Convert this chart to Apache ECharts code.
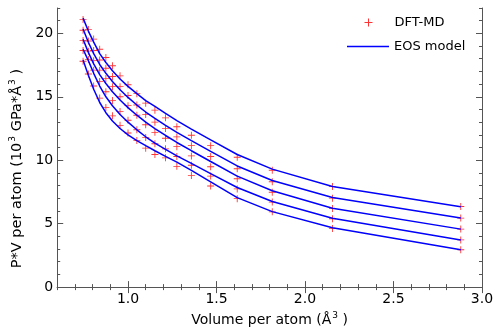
<!DOCTYPE html>
<html>
<head>
<meta charset="utf-8">
<script src="https://cdn.jsdelivr.net/npm/echarts@6/dist/echarts.min.js"></script>
<style>
html,body{margin:0;padding:0;background:#fff;}
#chart{width:498px;height:332px;}
</style>
</head>
<body>
<div id="chart"></div>
<script>
// Volume per atom (Å^3)
const volumes = [0.746, 0.776, 0.806, 0.840, 0.875, 0.912, 0.955, 1.000, 1.050, 1.100, 1.152, 1.212, 1.276, 1.358, 1.467, 1.617, 1.815, 2.155, 2.880];

// DFT-MD points (P*V per atom, 10^3 GPa*Å^3), five isotherms
const dft1 = [21.1, 20.3, 19.55, 18.75, 18.1, 17.45, 16.65, 15.95, 15.25, 14.5, 13.95, 13.34, 12.64, 11.97, 11.15, 10.24, 9.21, 7.92, 6.35];
const dft2 = [20.25, 19.4, 18.65, 17.9, 17.25, 16.6, 15.8, 15.1, 14.35, 13.6, 13.0, 12.51, 11.84, 11.15, 10.29, 9.33, 8.30, 7.01, 5.44];
const dft3 = [19.43, 18.6, 17.85, 17.1, 16.45, 15.8, 15.0, 14.3, 13.55, 12.8, 12.2, 11.73, 11.07, 10.34, 9.49, 8.54, 7.48, 6.19, 4.57];
const dft4 = [18.65, 17.95, 17.1, 16.2, 15.4, 14.7, 13.85, 13.15, 12.4, 11.8, 11.3, 10.9, 10.29, 9.60, 8.75, 7.74, 6.70, 5.39, 3.72];
const dft5 = [17.8, 16.8, 15.85, 14.9, 14.15, 13.5, 12.75, 12.15, 11.55, 10.95, 10.45, 10.19, 9.52, 8.79, 7.97, 6.97, 5.93, 4.61, 2.94];

// EOS model curves
const eos1 = [21.2, 20.18, 19.31, 18.4, 17.7, 17.05, 16.4, 15.82, 15.25, 14.7, 14.25, 13.69, 13.13, 12.46, 11.6, 10.45, 9.3, 7.93, 6.33];
const eos2 = [20.35, 19.3, 18.4, 17.55, 16.85, 16.2, 15.55, 14.95, 14.35, 13.8, 13.3, 12.75, 12.2, 11.55, 10.7, 9.55, 8.4, 7.06, 5.44];
const eos3 = [19.53, 18.5, 17.6, 16.75, 16.05, 15.4, 14.75, 14.15, 13.55, 13.0, 12.5, 11.95, 11.4, 10.75, 9.9, 8.75, 7.6, 6.22, 4.57];
const eos4 = [18.75, 17.85, 16.85, 15.85, 15.0, 14.3, 13.6, 13.0, 12.4, 11.85, 11.35, 10.85, 10.35, 9.75, 8.95, 7.85, 6.75, 5.42, 3.72];
const eos5 = [17.9, 16.7, 15.6, 14.55, 13.75, 13.1, 12.5, 12.0, 11.55, 11.15, 10.75, 10.3, 9.85, 9.2, 8.3, 7.05, 5.95, 4.68, 2.94];

// Tick labels
const xTickLabels = [1.0, 1.5, 2.0, 2.5, 3.0];
const yTickLabels = [0, 5, 10, 15, 20];

const dftSets = [dft1, dft2, dft3, dft4, dft5];
const eosSets = [eos1, eos2, eos3, eos4, eos5];

const FONT = 'DejaVu Sans';
const AXC = '#555';
const plus = 'path://M3.5,0h1v3.5h3.5v1h-3.5v3.5h-1v-3.5h-3.5v-1h3.5z';

const chart = echarts.init(document.getElementById('chart'), null, {renderer: 'canvas'});

function xAx(pos, opts) {
  return Object.assign({
    type: 'value', position: pos, min: 0.6, max: 3.0,
    axisLine: {show: false}, splitLine: {show: false},
    axisLabel: {show: false}, axisTick: {show: false}
  }, opts);
}
function yAx(pos, opts) {
  return Object.assign({
    type: 'value', position: pos, min: 0, max: 22,
    axisLine: {show: false}, splitLine: {show: false},
    axisLabel: {show: false}, axisTick: {show: false}
  }, opts);
}

const series = [];
series.push({
  name: 'DFT-MD', type: 'scatter', xAxisIndex: 0, yAxisIndex: 0,
  symbol: plus, symbolSize: 7, z: 2,
  itemStyle: {color: '#ff0000', opacity: 0.8},
  data: dftSets.flatMap(arr => arr.map((p, i) => [volumes[i], p]))
});
eosSets.forEach(arr => {
  series.push({
    name: 'EOS model', type: 'line', xAxisIndex: 0, yAxisIndex: 0,
    showSymbol: false, symbol: 'none', z: 3,
    lineStyle: {color: '#0000ff', width: 1.5},
    itemStyle: {color: '#0000ff'},
    data: arr.map((p, i) => [volumes[i], p])
  });
});

const option = {
  animation: false,
  backgroundColor: '#fff',
  grid: {left: 45, right: 16, top: 8, bottom: 40, containLabel: false},
  legend: [
    {
      data: ['DFT-MD'], left: 364.5, top: 16, padding: 0,
      itemWidth: 8, itemHeight: 8, icon: plus,
      textStyle: {fontFamily: FONT, fontSize: 13, color: '#000', padding: [0, 0, 0, 17]},
      itemStyle: {color: '#ff0000'}
    },
    {
      data: ['EOS model'], left: 347, top: 40, padding: 0,
      itemWidth: 42, itemHeight: 10, icon: 'path://M0,4.4h42v1.3h-42z',
      textStyle: {fontFamily: FONT, fontSize: 13, color: '#000'},
      itemStyle: {color: '#0000ff'}
    }
  ],
  xAxis: [
    xAx('bottom', {
      name: '{t|Volume per atom (Å}{s|3}{t| )}',
      nameLocation: 'middle', nameGap: 21,
      nameTextStyle: {
        fontFamily: FONT, fontSize: 14, color: '#000',
        rich: {t: {fontFamily: FONT, fontSize: 14, color: '#000'},
               s: {fontFamily: FONT, fontSize: 9, color: '#000', padding: [0, 0, 9, 1]}}
      },
      axisLine: {show: true, lineStyle: {color: AXC, width: 1}},
      axisTick: {show: true, inside: true, length: 6, customValues: xTickLabels, lineStyle: {color: AXC}},
      axisLabel: {show: true, customValues: xTickLabels, margin: 5, fontFamily: FONT, fontSize: 14, color: '#000',
                  formatter: v => v.toFixed(1)}
    }),
    xAx('bottom', {interval: 0.1, axisTick: {show: true, inside: true, length: 3, lineStyle: {color: AXC}}}),
    xAx('top', {axisLine: {show: true, lineStyle: {color: AXC, width: 1}},
                axisTick: {show: true, inside: true, length: 6, customValues: xTickLabels, lineStyle: {color: AXC}}}),
    xAx('top', {interval: 0.1, axisTick: {show: true, inside: true, length: 3, lineStyle: {color: AXC}}})
  ],
  yAxis: [
    yAx('left', {
      name: '{t|P*V per atom (10}{s|3}{t| GPa*Å}{s|3}{t| )}',
      nameLocation: 'middle', nameGap: 25, nameRotate: 90,
      nameTextStyle: {
        fontFamily: FONT, fontSize: 14, color: '#000', padding: [0, 42, 0, 0],
        rich: {t: {fontFamily: FONT, fontSize: 14.5, color: '#000'},
               s: {fontFamily: FONT, fontSize: 9, color: '#000', padding: [0, 0, 9, 1]}}
      },
      axisLine: {show: true, lineStyle: {color: AXC, width: 1}},
      axisTick: {show: true, inside: true, length: 6, customValues: yTickLabels, lineStyle: {color: AXC}},
      axisLabel: {show: true, customValues: yTickLabels, margin: 4, fontFamily: FONT, fontSize: 14, color: '#000'}
    }),
    yAx('left', {interval: 1, axisTick: {show: true, inside: true, length: 3, lineStyle: {color: AXC}}}),
    yAx('right', {axisLine: {show: true, lineStyle: {color: AXC, width: 1}},
                  axisTick: {show: true, inside: true, length: 6, customValues: yTickLabels, lineStyle: {color: AXC}}}),
    yAx('right', {interval: 1, axisTick: {show: true, inside: true, length: 3, lineStyle: {color: AXC}}})
  ],
  series: series
};
chart.setOption(option);
</script>
</body>
</html>
